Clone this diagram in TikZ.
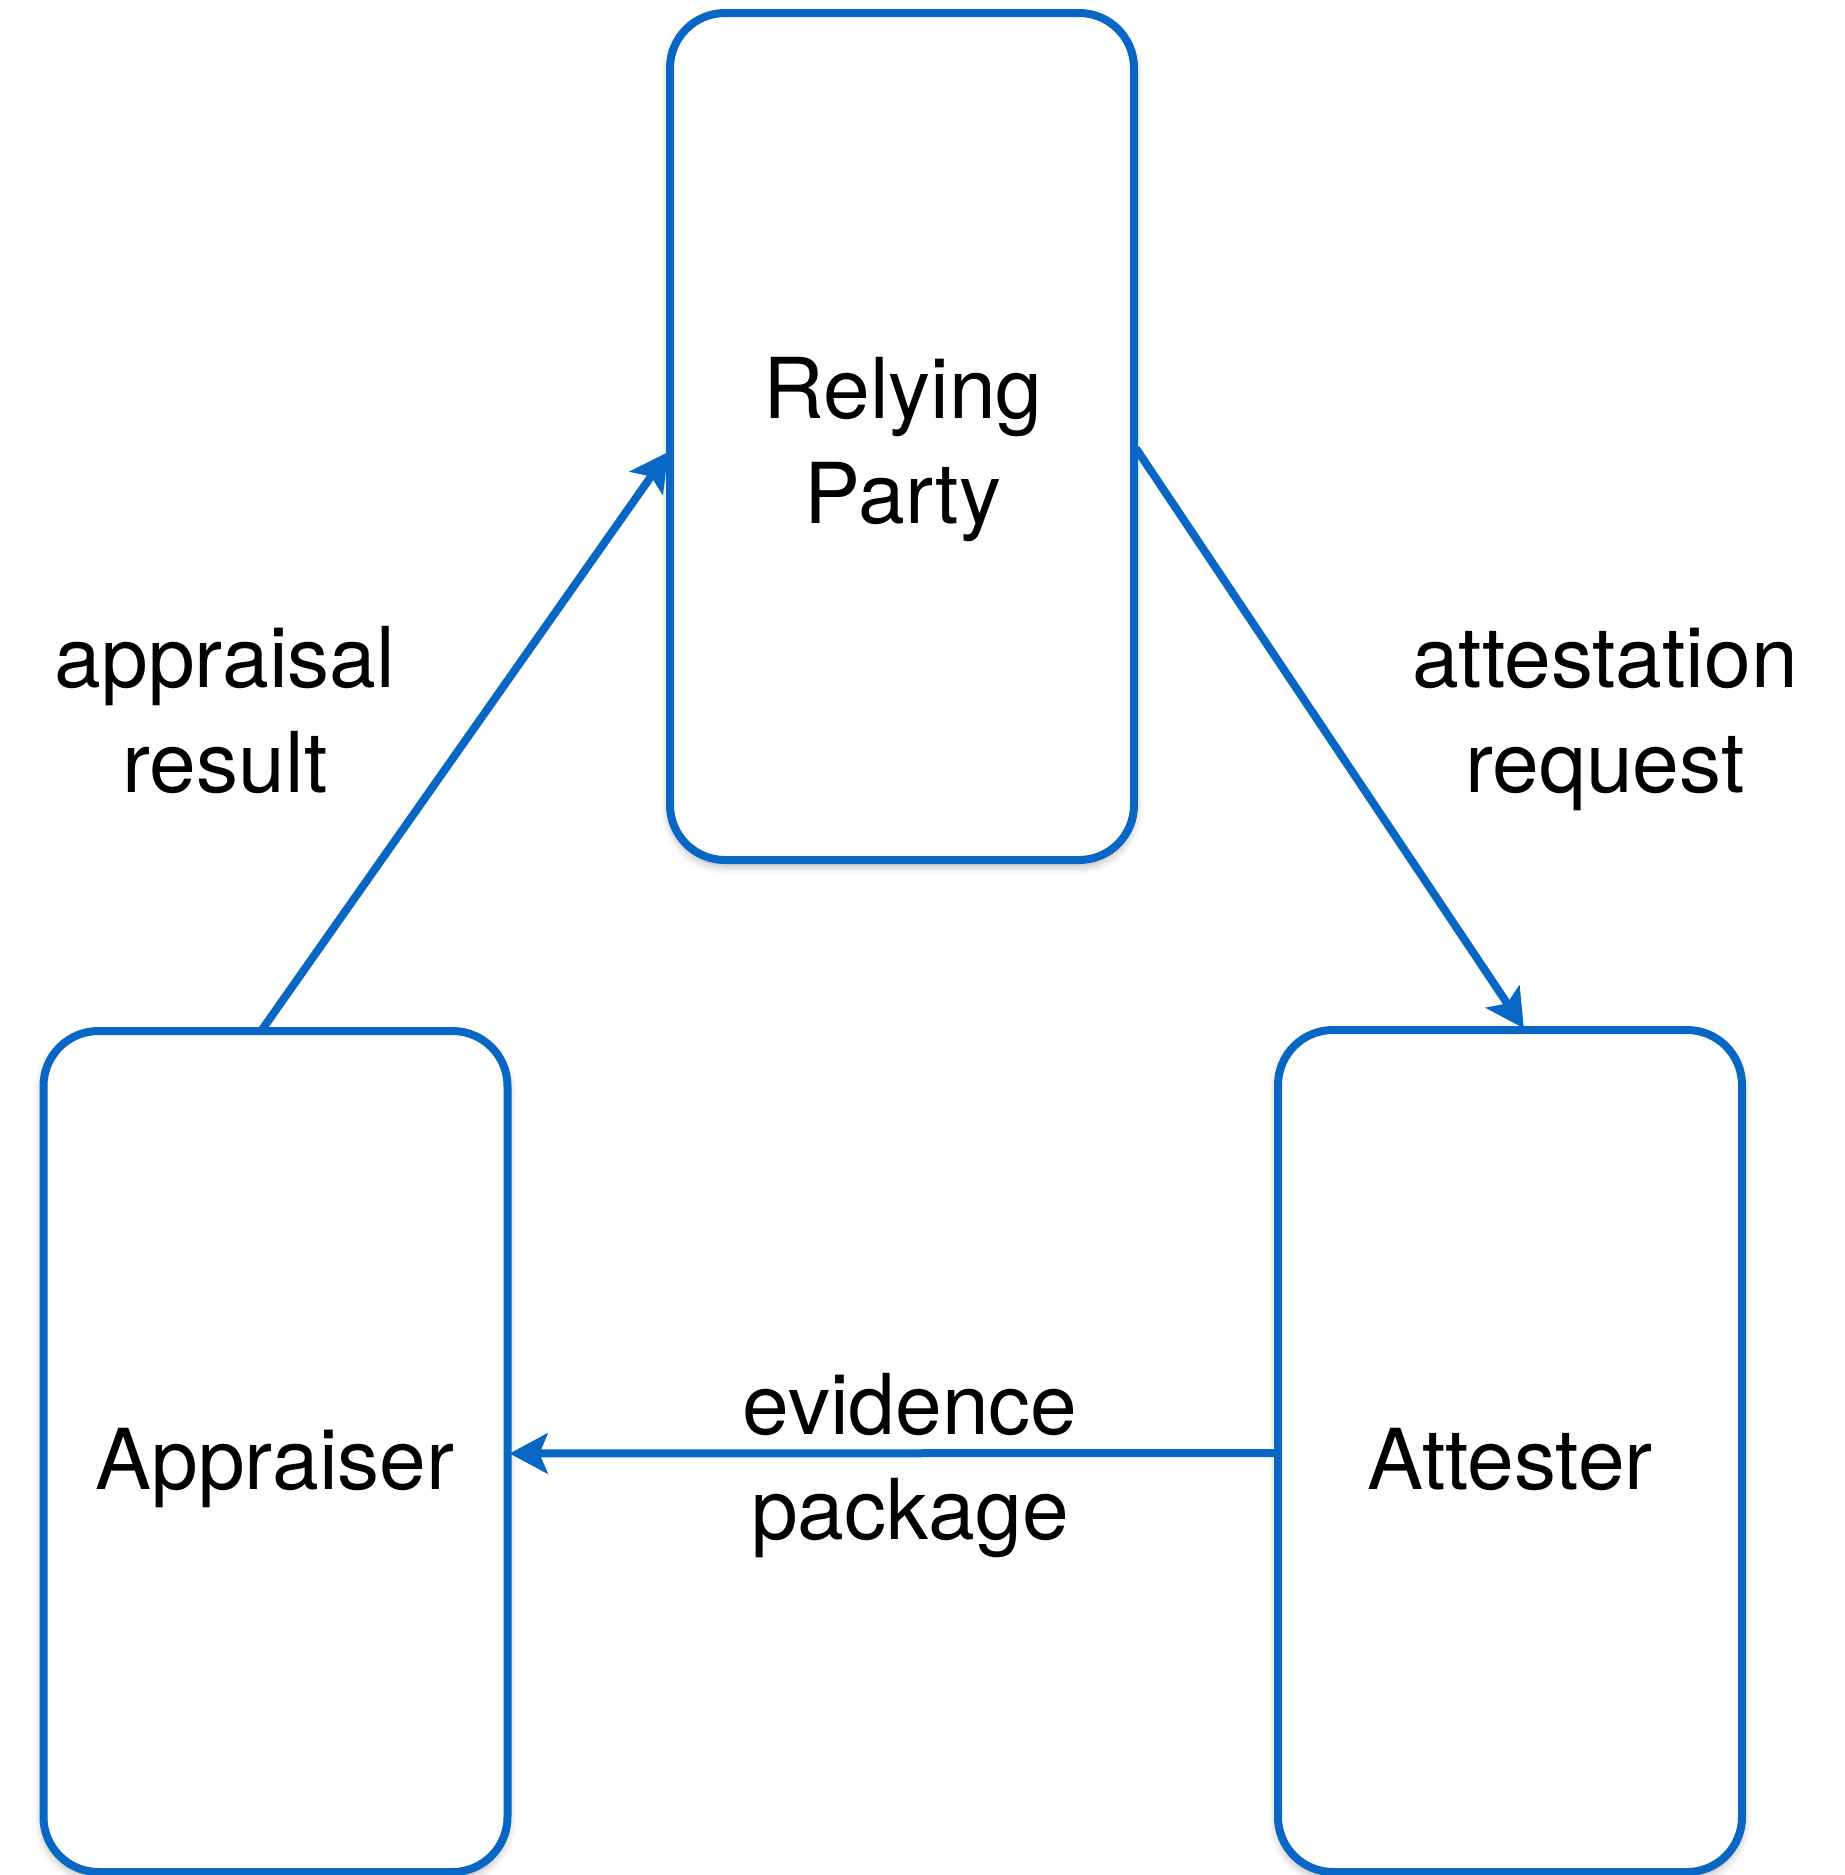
\documentclass[tikz,border=0pt]{standalone}
\usepackage{fontspec}
\setmainfont{TeX Gyre Heros}
\usetikzlibrary{arrows.meta,calc,shadows.blur}
\definecolor{linkblue}{RGB}{8,102,196}
\tikzset{
  party/.style={draw=linkblue, line width=8pt, fill=white, rounded corners=55pt,
    minimum width=464pt, inner sep=0pt, outer sep=0pt,
    blur shadow={shadow xshift=0pt, shadow yshift=-5pt, shadow blur radius=9pt, shadow opacity=35}},
  flow/.style={draw=linkblue, line width=8pt,
    -{Stealth[length=38pt, width=40pt, inset=8pt]}},
  lbl/.style={font=\fontsize{84}{105}\selectfont, align=center, anchor=base, inner sep=0pt}
}
\begin{document}
\begin{tikzpicture}[x=1pt, y=-1pt]
  \useasboundingbox (0,0) rectangle (1845,1875);

  % the three parties
  \node[party, minimum height=847pt] (rp)  at (902,436.5) {};
  \node[party, minimum height=841pt] (app) at (275.5,1451.5) {};
  \node[party, minimum height=842pt] (att) at (1510,1451) {};

  % party names (anchor base sits on the last line)
  \node[lbl] (rpname)  at (903,523)  {Relying\\Party};
  \node[lbl] (appname) at (275,1489) {Appraiser};
  \node[lbl] (attname) at (1510,1489) {Attester};

  % message flows
  \draw[flow, shorten >=3pt] ($(app.north)+(-13,-2)$) -- ($(rp.west)+(0,13)$);
  \draw[flow, shorten >=2pt] ($(rp.east)+(2,12)$) -- ($(att.north)+(15,0)$);
  \draw[flow, shorten >=2pt] ($(att.west)+(-2,2)$) -- ($(app.east)+(0,2)$);

  % flow labels
  \node[lbl] (reslbl) at (225,792)  {appraisal\\result};
  \node[lbl] (reqlbl) at (1605,792) {attestation\\request};
  \node[lbl] (evlbl)  at (910,1539) {evidence\\package};
\end{tikzpicture}
\end{document}
